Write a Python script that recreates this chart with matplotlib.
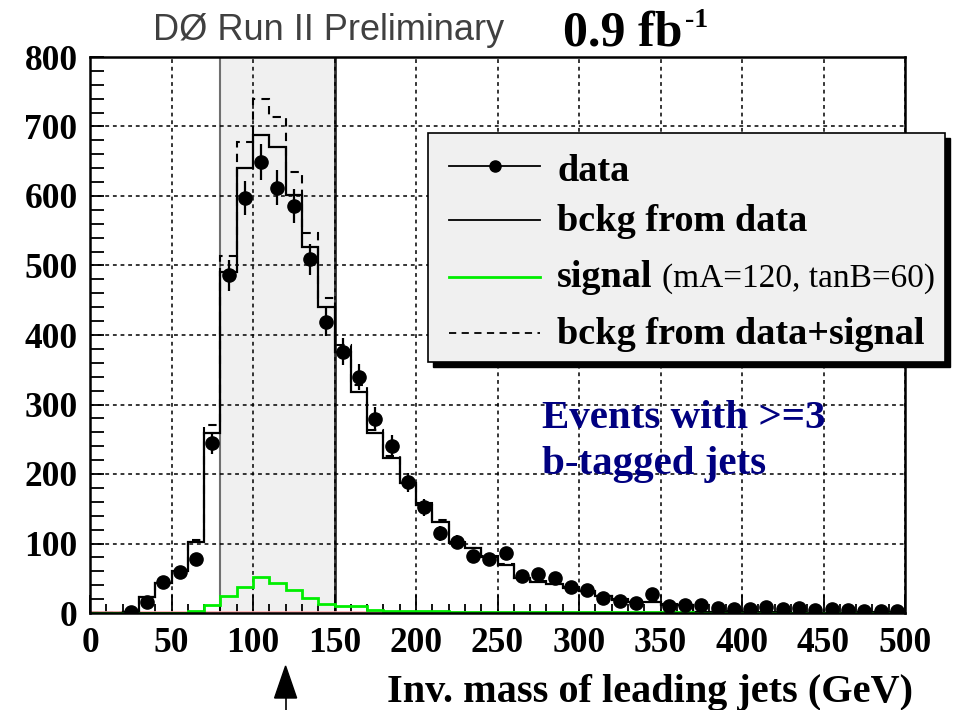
import numpy as np
import matplotlib
matplotlib.use("Agg")
import matplotlib.pyplot as plt
from matplotlib.patches import Rectangle, Polygon
from matplotlib.lines import Line2D

# ---------------- data ----------------
bin_edges = np.arange(0, 510, 10)
bin_centers = bin_edges[:-1] + 5

data_counts = [np.nan, np.nan, 2, 16, 45, 59, 77, 245, 486, 597,
               649, 612, 586, 509, 419, 376, 340, 279, 240, 188,
               152, 115, 102, 82, 78, 86, 53, 56, 51, 37,
               33, 21, 17, 14, 27, 10, 11, 11, 7, 6,
               6, 9, 6, 7, 4, 6, 4, 3, 3, 3]

bckg_counts = [0, 0, 2, 23, 43, 61, 102, 259, 490, 640,
               688, 670, 601, 526, 440, 376, 318, 259, 223, 187,
               155, 131, 101, 93, 81, 69, 50, 45, 42, 36,
               31, 24, 19, 16, 16, 12, 11, 2, 2, 2,
               0.5, 0.5, 0.5, 0.5, 0.5, 0.5, 0.5, 0.5, 0.5, 0.5]

signal_counts = [0, 0, 0, 0.5, 0.5, 0.5, 3, 12, 24, 38,
                 52, 43, 33, 21, 13, 10, 10, 4, 3, 3,
                 3, 3, 1, 1, 1, 1, 1, 1, 1, 1,
                 1, 1, 1, 1, 1, 1, 1, 0.3, 0.3, 0.3,
                 0.3, 0.3, 0.3, 0.3, 0.3, 0.3, 0.3, 0.3, 0.3, 0.3]

window = (80, 150)
arrow_mass = 120

x_ticks = [0, 50, 100, 150, 200, 250, 300, 350, 400, 450, 500]
y_ticks = [0, 100, 200, 300, 400, 500, 600, 700, 800]

# ---------------- figure ----------------
W, H = 955, 710
SERIF = ["Liberation Serif", "DejaVu Serif"]
fig = plt.figure(figsize=(W / 100, H / 100), dpi=100)
fig.patch.set_facecolor("white")


def fx(px):
    return px / W


def fy(py):
    return 1 - py / H


ax_l, ax_r, ax_t, ax_b = 90, 905, 57, 613
ax = fig.add_axes([fx(ax_l), fy(ax_b), (ax_r - ax_l) / W, (ax_b - ax_t) / H])
ax.set_xlim(0, 500)
ax.set_ylim(0, 800)
ax.set_axisbelow(True)

# shaded mass window
ax.axvspan(window[0], window[1], color="#f0f0f0", zorder=0.1, lw=0)
ax.axvline(window[0], color="#707070", lw=1.5, zorder=0.2)
ax.axvline(window[1], color="#303030", lw=2.0, zorder=0.2)

# grid
ax.set_xticks(x_ticks)
ax.set_yticks(y_ticks)
ax.set_xticks(np.arange(0, 501, 10), minor=True)
ax.set_yticks(np.arange(0, 801, 20), minor=True)
ax.grid(True, which="major", color="black", linestyle=(0, (2.5, 2.5)), lw=1.1)

data = np.array(data_counts, dtype=float)
bckg = np.array(bckg_counts, dtype=float)
sig = np.array(signal_counts, dtype=float)

# faint pink baseline histogram
ax.plot([0, 400], [1.5, 1.5], color="#ffb0b0", lw=2, zorder=1)

ax.stairs(bckg + sig, bin_edges, color="black", lw=1.5, linestyle=(0, (4, 3)),
          baseline=None, zorder=2)
ax.stairs(bckg, bin_edges, color="black", lw=1.6, baseline=None, zorder=3)
ax.stairs(sig, bin_edges, color="#00ee00", lw=2, baseline=None, zorder=3)

m = ~np.isnan(data)
ax.errorbar(bin_centers[m], data[m], yerr=np.sqrt(data[m]), fmt="o",
            color="black", ms=9.5, elinewidth=1.6, capsize=0, zorder=4)

for s in ax.spines.values():
    s.set_linewidth(1.8)
    s.set_zorder(5)

ax.tick_params(axis="x", which="major", direction="in", length=13, width=1.3,
               pad=10, labelsize=25.5, top=False)
ax.tick_params(axis="x", which="minor", direction="in", length=6.5, width=1.3,
               top=False)
ax.tick_params(axis="y", which="both", direction="in", length=10, width=1.3,
               pad=9, labelsize=25.5, right=False)
for lab in ax.get_xticklabels() + ax.get_yticklabels():
    lab.set_family(SERIF)
    lab.set_fontweight("bold")

# ---------------- texts ----------------
fig.text(fx(153), fy(40), "DØ Run II Preliminary",
         family=["Liberation Sans Narrow", "Liberation Sans"],
         fontsize=26, color="#404040", ha="left", va="baseline")
fig.text(fx(563), fy(45), "0.9 fb", family=SERIF, fontweight="bold",
         fontsize=36, color="black", ha="left", va="baseline")
fig.text(fx(685), fy(27), "-1", family=SERIF, fontweight="bold",
         fontsize=20, color="black", ha="left", va="baseline")

fig.text(fx(542), fy(428), "Events with >=3", family=SERIF, fontweight="bold",
         fontsize=29.5, color="#000080", ha="left", va="baseline")
fig.text(fx(542), fy(474), "b-tagged jets", family=SERIF, fontweight="bold",
         fontsize=29.5, color="#000080", ha="left", va="baseline")

fig.text(fx(913), fy(702), "Inv. mass of leading jets (GeV)", family=SERIF,
         fontweight="bold", fontsize=29, color="black", ha="right", va="baseline")

# arrow below the axis at the signal mass
ax_px = (arrow_mass - 0) / 500 * (ax_r - ax_l) + ax_l
fig.add_artist(Polygon([[fx(ax_px - 11), fy(698)], [fx(ax_px + 11), fy(698)],
                        [fx(ax_px), fy(666)]], closed=True, facecolor="black",
                       edgecolor="black", transform=fig.transFigure))
fig.add_artist(Line2D([fx(ax_px), fx(ax_px)], [fy(698), fy(712)], color="black",
                      lw=1.2, transform=fig.transFigure))

# ---------------- legend ----------------
lx0, lx1, ly0, ly1 = 428, 945, 133, 362
fig.add_artist(Rectangle((fx(lx0 + 5), fy(ly1 + 5)), (lx1 - lx0) / W, (ly1 - ly0) / H,
                         facecolor="black", edgecolor="black", transform=fig.transFigure,
                         zorder=10))
fig.add_artist(Rectangle((fx(lx0), fy(ly1)), (lx1 - lx0) / W, (ly1 - ly0) / H,
                         facecolor="#f0f0f0", edgecolor="black", lw=1.2,
                         transform=fig.transFigure, zorder=11))

rows = [
    (181, "data"),
    (231, "bckg from data"),
    (287, "signal"),
    (344, "bckg from data+signal"),
]
sx0, sx1, tx = 449, 540, 557
fig.add_artist(Line2D([fx(sx0), fx(sx1)], [fy(166), fy(166)], color="black", lw=1.3,
                      transform=fig.transFigure, zorder=12))
fig.add_artist(Line2D([fx((sx0 + sx1) / 2)], [fy(166)], color="black", marker="o",
                      ms=8, transform=fig.transFigure, zorder=12))
fig.add_artist(Line2D([fx(sx0), fx(sx1)], [fy(220), fy(220)], color="black", lw=1.3,
                      transform=fig.transFigure, zorder=12))
fig.add_artist(Line2D([fx(sx0), fx(sx1)], [fy(277), fy(277)], color="#00ee00", lw=2,
                      transform=fig.transFigure, zorder=12))
fig.add_artist(Line2D([fx(sx0), fx(sx1)], [fy(333), fy(333)], color="black", lw=1.3,
                      linestyle=(0, (4, 3)), transform=fig.transFigure, zorder=12))
for base, label in rows:
    fig.text(fx(tx), fy(base), label, family=SERIF, fontweight="bold", fontsize=27.5,
             ha="left", va="baseline", zorder=13)
fig.text(fx(662), fy(287), "(mA=120, tanB=60)", family=SERIF, fontsize=24,
         ha="left", va="baseline", zorder=13)

fig.savefig("out.png", dpi=100, facecolor="white")
